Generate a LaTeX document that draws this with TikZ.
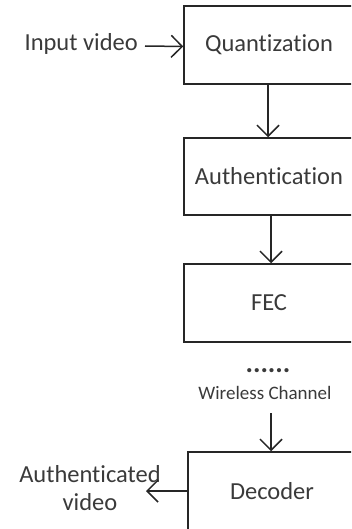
\documentclass[tikz,border=0pt]{standalone}
\usepackage{fontspec}
\setmainfont{Carlito}[RawFeature={-liga;-dlig;-clig}]
\usetikzlibrary{arrows.meta}
\definecolor{txt}{HTML}{3A3A3A}
\definecolor{ln}{HTML}{262626}
\tikzset{
  blk/.style={draw=ln, line width=1.5pt, minimum width=170pt, minimum height=78pt, inner sep=0pt,
    text=txt, font=\fontsize{24.5}{28}\selectfont},
  lab/.style={text=txt, font=\fontsize{24.5}{28}\selectfont, inner sep=0pt},
  small/.style={text=txt, font=\fontsize{19}{22}\selectfont, inner sep=0pt},
  dotsty/.style={text=txt, font=\fontsize{28}{30}\selectfont\bfseries, inner sep=0pt},
  conn/.style={draw=ln, line width=1.5pt, -{Straight Barb[length=11pt,width=22pt,line width=1.5pt]}}
}
\begin{document}
\begin{tikzpicture}[x=1pt,y=-1pt]
\useasboundingbox (0,0) rectangle (351,529);
\clip (0,0) rectangle (351,529);
\node[blk] (q) at (269,45) {Quantization};
\node[blk, minimum height=77pt] (a) at (269,176.5) {Authentication};
\node[blk] (f) at (269,303) {FEC};
\node[blk, minimum width=168pt] (d) at (272,491) {Decoder};
\node[lab, anchor=east] (in) at (138,44) {Input video};
\node[dotsty, anchor=base] (dots) at (268,372) {......};
\node[small] (wc) at (265,393) {Wireless Channel};
\node[lab, align=center] (out) at (90,488) {Authenticated\\video};
\coordinate (outend) at (146,491);
\draw[conn] (in.east) ++(7,2) -- (q.west |- 0,46.5);
\draw[conn] (q.south -| 268,0) -- (a.north -| 268,0);
\draw[conn] (a.south -| 271,0) -- (f.north -| 271,0);
\draw[conn] (271,413) -- (d.north -| 271,0);
\draw[conn] (d.west) -- (outend);
\end{tikzpicture}
\end{document}
